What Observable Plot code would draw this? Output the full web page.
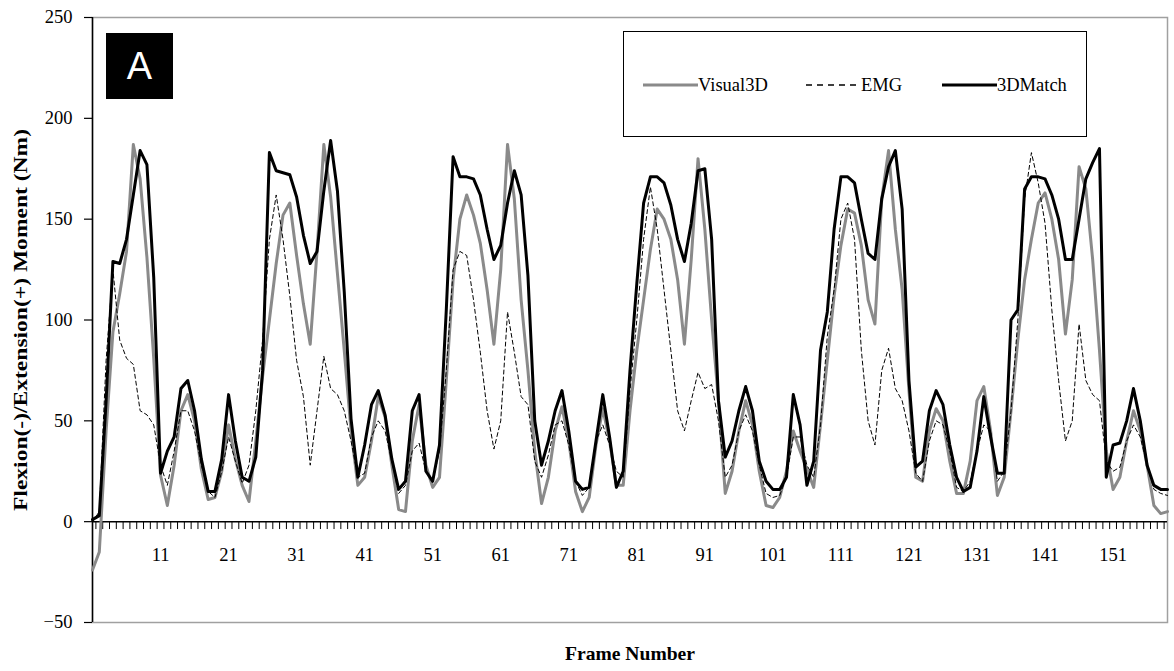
<!DOCTYPE html>
<html>
<head>
<meta charset="utf-8">
<script src="https://cdn.jsdelivr.net/npm/d3@7"></script>
<script src="https://cdn.jsdelivr.net/npm/@observablehq/plot@0.6"></script>
<style>
  html, body { margin: 0; padding: 0; background: #fff; }
  #wrap { position: relative; width: 1174px; height: 671px; font-family: "Liberation Serif", "Times New Roman", serif; }
  #badge { position: absolute; left: 106px; top: 33px; width: 67px; height: 66px; background: #000; color: #fff;
           font-family: "Liberation Sans", Arial, sans-serif; font-size: 38px; line-height: 66px; text-align: center; }
  #legend { position: absolute; left: 623px; top: 31px; width: 462px; height: 104px; border: 1.5px solid #000; background: #fff; }
  .item { position: absolute; top: 41px; display: flex; align-items: center; font-size: 18.5px; height: 24px; }
  .item svg { display: block; }
</style>
</head>
<body>
<div id="wrap">
  <div id="chart"></div>
  <div id="badge">A</div>
  <div id="legend"></div>
</div>
<script>
const seriesNames = ["Visual3D", "EMG", "3DMatch"];
const frames = d3.range(1, 160);
const visual3D = [
  -24,-15,45,94,113,134,187,170,131,81,
  23,8,28,55,63,50,26,11,12,25,
  48,31,18,10,40,72,100,128,152,158,
  132,108,88,134,187,161,123,85,45,18,
  22,40,62,52,28,6,5,40,58,28,
  17,22,70,120,150,162,152,138,115,88,
  125,187,160,110,75,35,9,22,45,57,
  40,15,5,12,38,56,40,18,18,55,
  85,110,135,155,150,140,120,88,130,180,
  145,100,60,14,25,45,60,48,25,8,
  7,12,25,45,35,26,17,48,80,112,
  137,155,153,137,110,98,160,184,145,115,
  65,22,20,45,56,50,30,14,14,30,
  60,67,45,13,22,55,90,120,140,158,
  163,150,130,93,120,176,165,130,85,35,
  16,22,40,55,45,28,8,4,5
];
const emg = [
  0,5,80,125,90,81,78,55,53,48,
  28,18,35,55,55,45,28,15,12,25,
  42,30,19,28,55,90,140,162,140,112,
  80,62,28,55,82,66,63,55,40,22,
  24,42,50,45,30,14,18,35,39,25,
  20,35,75,125,134,132,110,84,55,36,
  50,104,84,62,58,30,22,33,48,50,
  38,20,13,17,40,48,38,25,22,65,
  100,140,166,145,115,85,55,45,60,74,
  66,68,50,22,28,45,53,45,28,14,
  12,13,22,42,42,28,22,48,92,115,
  150,158,140,85,50,38,75,86,66,60,
  45,24,20,40,50,48,35,17,15,20,
  35,48,45,20,25,55,100,160,183,168,
  148,105,70,40,50,98,70,63,60,30,
  25,27,40,48,42,28,16,14,13
];
const match3D = [
  1,3,60,129,128,140,162,184,177,121,
  24,35,42,66,70,55,31,15,15,31,
  63,40,22,20,32,75,183,174,173,172,
  161,142,128,134,164,189,164,114,51,22,
  38,58,65,53,31,16,20,55,63,25,
  20,38,105,181,171,171,170,162,145,130,
  137,158,174,162,122,50,28,40,55,65,
  45,20,16,17,40,63,42,17,25,75,
  118,158,171,171,168,157,140,129,148,174,
  175,140,60,32,40,55,67,55,30,20,
  16,16,22,63,48,18,30,85,104,145,
  171,171,168,150,133,130,160,176,184,155,
  70,27,30,55,65,58,38,22,15,17,
  35,62,42,24,24,100,105,165,171,171,
  170,162,150,130,130,150,170,178,185,22,
  38,39,50,66,50,28,18,16,16
];
const yTicks = [-50, 0, 50, 100, 150, 200, 250];
const xTickLabels = [11, 21, 31, 41, 51, 61, 71, 81, 91, 101, 111, 121, 131, 141, 151];
const xTitle = "Frame Number";
const yTitle = "Flexion(-)/Extension(+) Moment (Nm)";

const rows = frames.map((f, i) => ({frame: f, visual3D: visual3D[i], emg: emg[i], match3D: match3D[i]}));
const minorTicks = frames.slice(0, -1).map(f => f + 0.5);

const styles = {
  "Visual3D": {stroke: "#8a8a8a", strokeWidth: 3, dash: null},
  "EMG": {stroke: "#000", strokeWidth: 1, dash: "4,3"},
  "3DMatch": {stroke: "#000", strokeWidth: 3, dash: null}
};

const tickShape = {draw(context, l) { context.moveTo(0, 0); context.lineTo(0, -l); }};

const chart = Plot.plot({
  width: 1174,
  height: 671,
  marginLeft: 92,
  marginRight: 7,
  marginTop: 17,
  marginBottom: 49,
  style: {fontFamily: "Liberation Serif, Times New Roman, serif", fontSize: "18px", background: "#fff", color: "#000"},
  x: {domain: [1, 159], axis: null},
  y: {domain: [-50, 250]},
  marks: [
    Plot.frame({stroke: "#a0a0a0", strokeWidth: 1.5}),
    Plot.axisY({ticks: yTicks, tickSize: 8, tickPadding: 12, label: null, fontSize: 18.5, strokeWidth: 1.2}),
    Plot.ruleX([1], {stroke: "#000", strokeWidth: 1.5}),
    Plot.ruleY([0], {stroke: "#000", strokeWidth: 1.5}),
    Plot.vector(minorTicks, {x: d => d, y: 0, length: 7, rotate: 180, anchor: "start", shape: tickShape, stroke: "#000", strokeWidth: 1}),
    Plot.text(xTickLabels, {x: d => d, y: 0, dy: 33, text: d => String(d), fontSize: 18.5}),
    Plot.line(rows, {x: "frame", y: "visual3D", stroke: styles["Visual3D"].stroke, strokeWidth: 3}),
    Plot.line(rows, {x: "frame", y: "emg", stroke: "#000", strokeWidth: 1, strokeDasharray: "4,3"}),
    Plot.line(rows, {x: "frame", y: "match3D", stroke: "#000", strokeWidth: 3}),
    Plot.text([xTitle], {frameAnchor: "bottom", dy: 37, fontWeight: "bold", fontSize: 19, textAnchor: "middle"}),
    Plot.text([yTitle], {frameAnchor: "left", rotate: -90, dx: -72, fontWeight: "bold", fontSize: 19, textAnchor: "middle"})
  ]
});
// stretch the axis titles to the reference lengths
chart.querySelectorAll("text").forEach(t => {
  if (t.textContent === yTitle) { t.setAttribute("textLength", 382); t.setAttribute("lengthAdjust", "spacingAndGlyphs"); }
  if (t.textContent === xTitle) { t.setAttribute("textLength", 130); t.setAttribute("lengthAdjust", "spacingAndGlyphs"); }
});
document.getElementById("chart").appendChild(chart);

// legend
const legend = document.getElementById("legend");
const lefts = [19, 182, 318];
seriesNames.forEach((name, i) => {
  const s = styles[name];
  const item = document.createElement("div");
  item.className = "item";
  item.style.left = lefts[i] + "px";
  const svgNS = "http://www.w3.org/2000/svg";
  const svg = document.createElementNS(svgNS, "svg");
  svg.setAttribute("width", 55); svg.setAttribute("height", 10);
  const ln = document.createElementNS(svgNS, "line");
  ln.setAttribute("x1", 0); ln.setAttribute("x2", 55); ln.setAttribute("y1", 5); ln.setAttribute("y2", 5);
  ln.setAttribute("stroke", s.stroke); ln.setAttribute("stroke-width", s.strokeWidth === 1 ? 1.3 : 3);
  if (s.dash) ln.setAttribute("stroke-dasharray", "6,5");
  svg.appendChild(ln);
  const t = document.createElement("span");
  t.textContent = name;
  item.appendChild(svg); item.appendChild(t);
  legend.appendChild(item);
});
</script>
</body>
</html>
